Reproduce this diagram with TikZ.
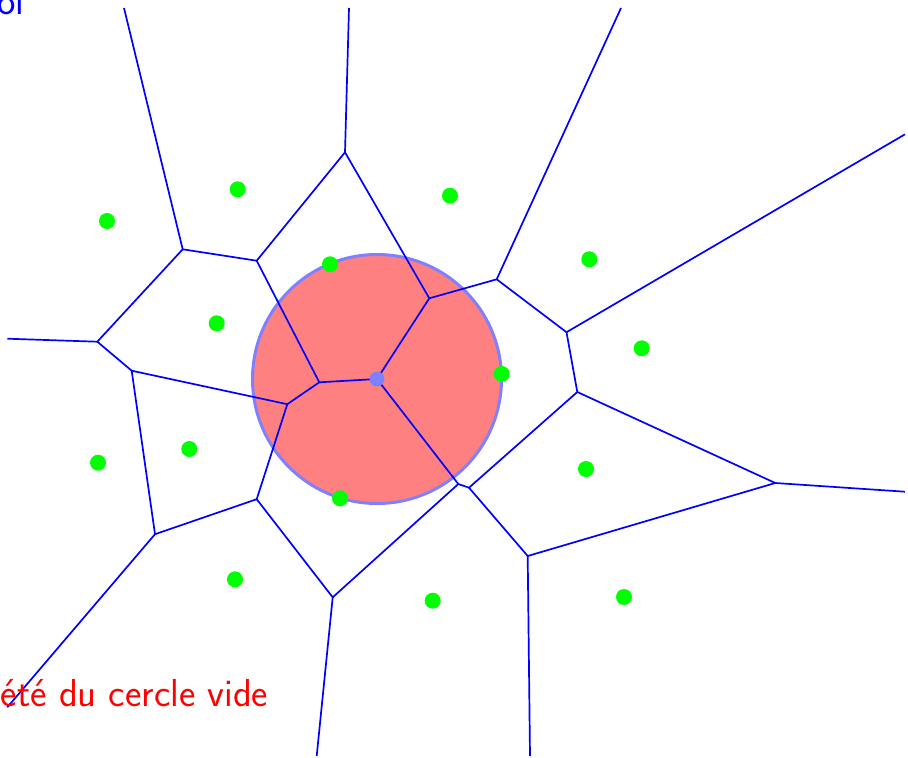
\documentclass[tikz,border=0pt]{standalone}
\usepackage{fontspec}
\usepackage{tikz}

\begin{document}
\begin{tikzpicture}[x=1pt,y=-1pt,
		edge/.style={blue,line width=1.7pt},
		siteDot/.style={fill=green},
		bigText/.style={inner sep=0pt,font=\fontsize{39}{46}\selectfont\sffamily}]
		\useasboundingbox (0,0) rectangle (908,758);
		\clip (0,0) rectangle (908,758);
		% empty circle
		\draw[fill=red!50,draw=blue!50,line width=3pt] (377,379) circle (124.5pt);
		% vertices of the cells
		\coordinate (A) at (182.7,249.3);
		\coordinate (B) at (256.7,260.7);
		\coordinate (C) at (345,152.3);
		\coordinate (D) at (429.3,298.3);
		\coordinate (E) at (496.7,279.3);
		\coordinate (F) at (566.5,332.2);
		\coordinate (G) at (577.3,392);
		\coordinate (H) at (775.3,483);
		\coordinate (I) at (527.7,556);
		\coordinate (J) at (469,487.7);
		\coordinate (K) at (458.3,484);
		\coordinate (L) at (377,379);
		\coordinate (M) at (319.3,382.3);
		\coordinate (N) at (287.3,404.2);
		\coordinate (O) at (256.7,499.2);
		\coordinate (P) at (155,534.2);
		\coordinate (Q) at (131.7,370.7);
		\coordinate (R) at (97.3,341.7);
		\coordinate (S) at (332.7,597.3);
		% open ends
		\coordinate (endA) at (124,8);
		\coordinate (endC) at (349,8);
		\coordinate (endE) at (621,8);
		\coordinate (endF) at (905,134.3);
		\coordinate (endH) at (905,491.7);
		\coordinate (endI) at (530,756);
		\coordinate (endS) at (316.7,756);
		\coordinate (endP) at (7.3,707.3);
		\coordinate (endR) at (7.3,338.7);
		% edges
		\draw[edge] (endA) -- (A) -- (B) -- (C) -- (endC);
		\draw[edge] (A) -- (R) -- (endR);
		\draw[edge] (R) -- (Q) -- (N) -- (M) -- (B);
		\draw[edge] (Q) -- (P) -- (endP);
		\draw[edge] (P) -- (O) -- (N);
		\draw[edge] (O) -- (S) -- (endS);
		\draw[edge] (S) -- (K) -- (L) -- (M);
		\draw[edge] (K) -- (J) -- (G) -- (F) -- (E) -- (D) -- (L);
		\draw[edge] (C) -- (D);
		\draw[edge] (E) -- (endE);
		\draw[edge] (F) -- (endF);
		\draw[edge] (G) -- (H) -- (endH);
		\draw[edge] (H) -- (I) -- (J);
		\draw[edge] (I) -- (endI);
		% center of the circle
		\fill[blue!50] (L) circle (7.5pt);
		% sites
		\foreach \p in {(107,221),(237.7,189.3),(450,195.7),(589.3,259.3),(641.7,348.3),
			(501.7,374),(586,469),(624,597),(432.7,600.7),(340,498.3),(235,579.3),
			(98,462.7),(189.3,449),(216.7,323.3),(330,264.3)}{
			\fill[siteDot] \p circle (8pt);
		}
		% titles
		\node[bigText,blue,anchor=base east] (titre) at (24.5,14.5) {oi};
		\node[bigText,red,anchor=base east] (propriete) at (268.5,706.7) {été du cercle vide};
	\end{tikzpicture}
\end{document}
